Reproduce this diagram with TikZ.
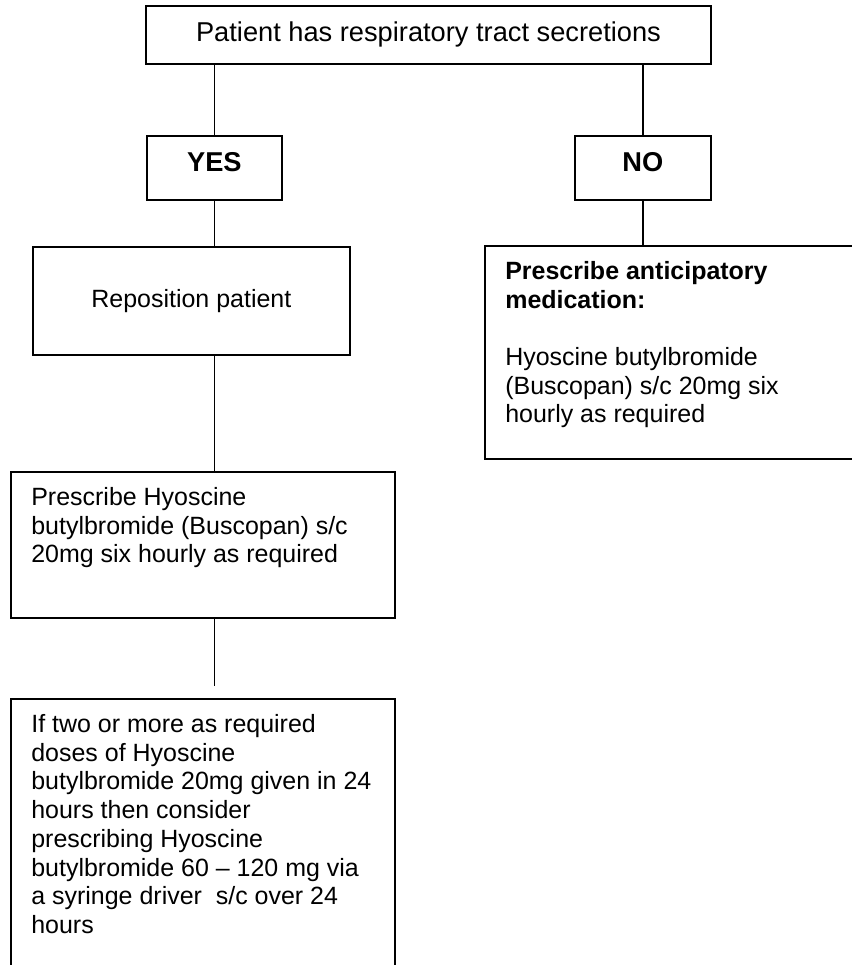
\documentclass[tikz,border=0pt]{standalone}
\usepackage{fontspec}
\setmainfont{Liberation Sans}
\usepackage{tikz}

\begin{document}
\begin{tikzpicture}[x=1pt, y=-1pt, line width=0.8pt]
      \tikzstyle{every node}=[draw, rectangle, anchor=north west, inner sep=0pt]
      \tikzstyle{question}=[font=\fontsize{12}{13.8}\selectfont]
      \tikzstyle{answer}=[font=\fontsize{12}{13.8}\selectfont\bfseries, text depth=5pt, minimum height=28.2pt]
      \tikzstyle{action}=[font=\fontsize{11}{12.65}\selectfont, inner xsep=9pt, inner ysep=6.8pt]
      \useasboundingbox (0,0) rectangle (375.3,425.1);
      \clip (0,0) rectangle (375.3,425.1);
      \node [question, minimum width=248.9pt, minimum height=25.6pt] (top) at (63.9,2.2) {Patient has respiratory tract secretions};
      \node [answer, minimum width=59.5pt] (yes) at (64.3,59.5) {YES};
      \node [answer, minimum width=60pt] (no) at (252.8,59.5) {NO};
      \node [action, inner sep=0pt, minimum width=139.6pt, minimum height=47.5pt] (repo) at (14.1,108.4) {Reposition patient};
      \node [action] (presc) at (4.4,207.5) {\parbox[t][50.7pt][t]{151.2pt}{\raggedright
        Prescribe Hyoscine\\ butylbromide (Buscopan) s/c\\ 20mg six hourly as required}};
      \node [action] (consider) at (4.4,307.5) {\parbox[t][118.9pt][t]{151.2pt}{\raggedright
        If two or more as required\\ doses of Hyoscine\\ butylbromide 20mg given in 24\\ hours then consider\\
        prescribing Hyoscine\\ butylbromide 60 -- 120 mg via\\ a syringe driver~\ s/c over 24\\ hours}};
      \node [action] (antic) at (213.2,107.9) {\parbox[t][80.2pt][t]{158.8pt}{\raggedright
        \textbf{Prescribe anticipatory\\ medication:}\\[12.65pt]
        Hyoscine butylbromide\\ (Buscopan) s/c 20mg six\\ hourly as required}};
      % connectors
      \draw (yes.north) -- (yes.north |- top.south);
      \draw (no.north) -- (no.north |- top.south);
      \draw (yes.south) -- (yes.south |- repo.north);
      \draw (yes.south |- repo.south) -- (yes.south |- presc.north);
      \draw [shorten >=5.3pt] (yes.south |- presc.south) -- (yes.south |- consider.north);
      \draw (no.south) -- (no.south |- antic.north);
\end{tikzpicture}
\end{document}
